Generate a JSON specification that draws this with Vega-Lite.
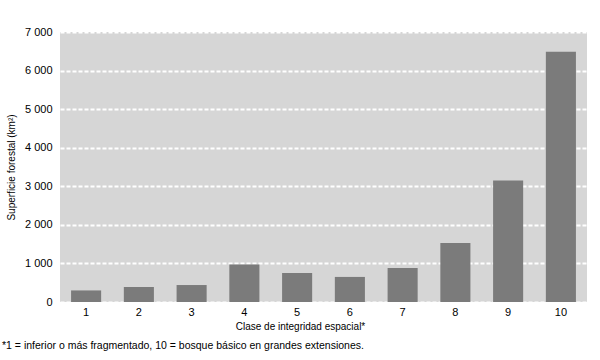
{
  "$schema": "https://vega.github.io/schema/vega-lite/v6.json",
  "width": 527,
  "height": 270,
  "autosize": {"type": "none"},
  "padding": {"left": 60, "top": 32, "right": 13, "bottom": 58},
  "background": "white",
  "config": {
    "font": "Liberation Sans",
    "view": {"fill": "#d6d6d6", "stroke": null}
  },
  "title": {
    "text": "*1 = inferior o más fragmentado, 10 = bosque básico en grandes extensiones.",
    "orient": "bottom",
    "anchor": "start",
    "frame": "group",
    "dx": -58,
    "offset": 10,
    "fontSize": 10.5,
    "fontWeight": "normal",
    "color": "#000000",
    "font": "Liberation Sans"
  },
  "data": {
    "values": [
      {"clase": "1", "superficie": 300},
      {"clase": "2", "superficie": 390},
      {"clase": "3", "superficie": 440},
      {"clase": "4", "superficie": 970},
      {"clase": "5", "superficie": 750},
      {"clase": "6", "superficie": 650},
      {"clase": "7", "superficie": 880},
      {"clase": "8", "superficie": 1530},
      {"clase": "9", "superficie": 3150},
      {"clase": "10", "superficie": 6490}
    ]
  },
  "mark": {"type": "bar", "color": "#7b7b7b"},
  "encoding": {
    "x": {
      "field": "clase",
      "type": "ordinal",
      "sort": null,
      "scale": {"paddingInner": 0.43, "paddingOuter": 0.21},
      "axis": {
        "title": "Clase de integridad espacial*",
        "titleFontSize": 10,
        "titleFontWeight": "normal",
        "titlePadding": 4,
        "titleX": 240,
        "titleAnchor": null,
        "titleAlign": "center",
        "labelAngle": 0,
        "labelFontSize": 11,
        "labelPadding": 4,
        "domain": false,
        "ticks": false,
        "labelColor": "#000",
        "titleColor": "#000"
      }
    },
    "y": {
      "field": "superficie",
      "type": "quantitative",
      "scale": {"domain": [0, 7000]},
      "axis": {
        "title": "Superficie forestal (km²)",
        "titleFontSize": 10,
        "titleFontWeight": "normal",
        "titlePadding": 8,
        "values": [0, 1000, 2000, 3000, 4000, 5000, 6000, 7000],
        "labelExpr": "replace(format(datum.value, ','), ',', ' ')",
        "labelFontSize": 11,
        "labelPadding": 8,
        "domain": false,
        "ticks": false,
        "grid": true,
        "gridColor": "#ffffff",
        "gridWidth": 2,
        "gridDash": [4, 2],
        "labelColor": "#000",
        "titleColor": "#000"
      }
    }
  }
}
